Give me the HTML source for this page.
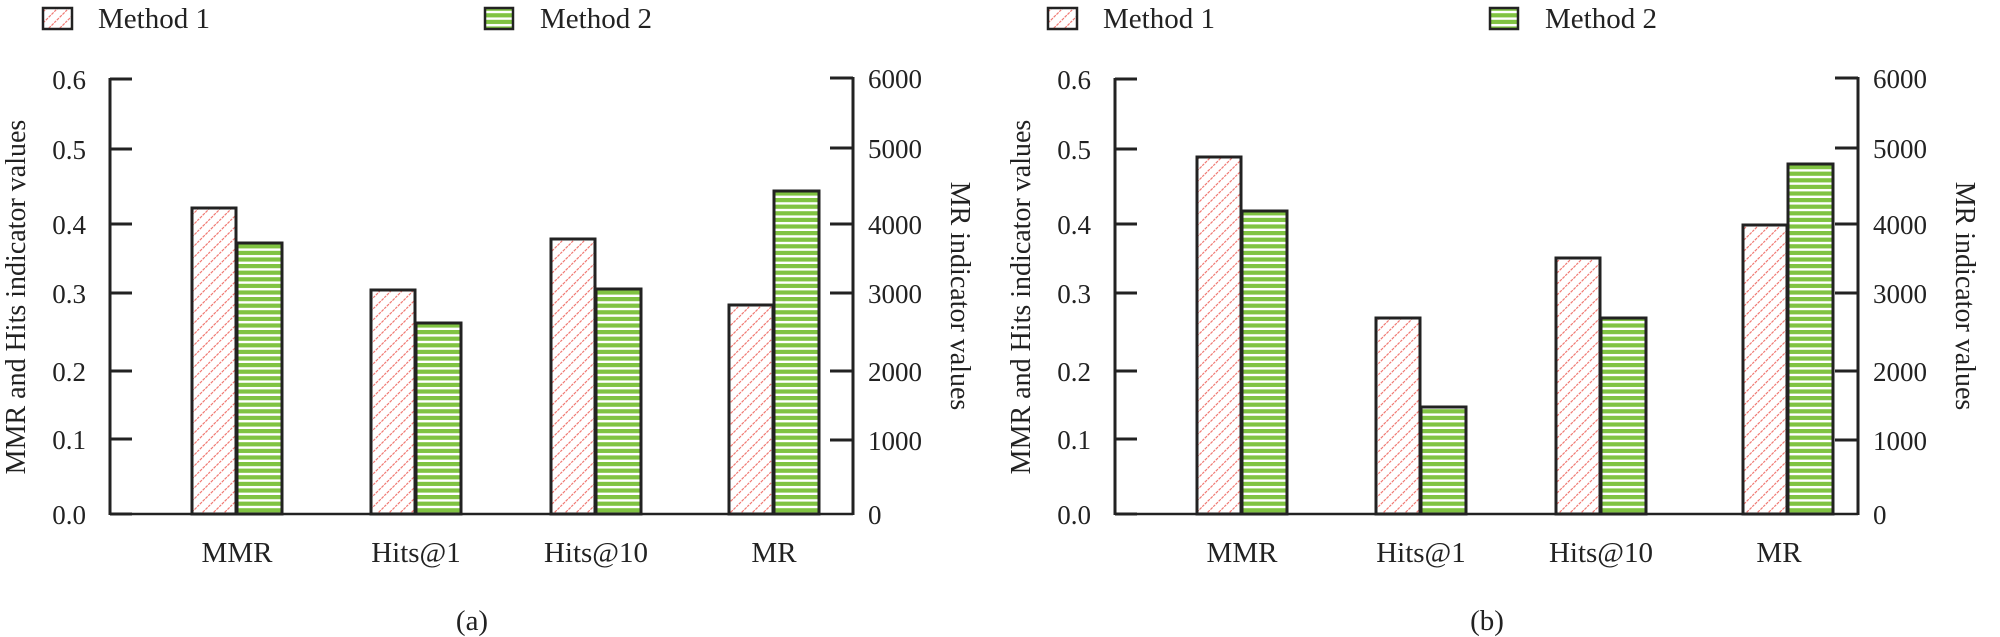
<!DOCTYPE html>
<html><head><meta charset="utf-8"><style>
html,body{margin:0;padding:0;background:#fff;}
svg{display:block;}
text{font-family:"Liberation Serif",serif;fill:#222;}
</style></head><body>
<svg width="2000" height="637" viewBox="0 0 2000 637" xmlns="http://www.w3.org/2000/svg">
<defs>
<pattern id="hatch" patternUnits="userSpaceOnUse" width="11" height="11">
<rect width="11" height="11" fill="#fff"/>
<path d="M-1,12 L12,-1 M-6,6 L6,-6 M5,17 L17,5" stroke="#f07a74" stroke-width="1.2" stroke-dasharray="3,1"/>
</pattern>
<pattern id="stripe" patternUnits="userSpaceOnUse" width="10" height="6.6">
<rect width="10" height="6.6" fill="#fff"/>
<rect y="0" width="10" height="4.2" fill="#80c342"/>
</pattern>
</defs>

<g id="pa">
<!-- legend -->
<rect x="43" y="8" width="29" height="21" fill="url(#hatch)" stroke="#222" stroke-width="2.5"/>
<text x="98" y="28" font-size="29">Method 1</text>
<rect x="485" y="8" width="28" height="21" fill="url(#stripe)" stroke="#222" stroke-width="2.5"/>
<text x="540" y="28" font-size="29">Method 2</text>
<!-- left axis -->
<line x1="110" y1="78" x2="110" y2="515" stroke="#222" stroke-width="3"/>
<g stroke="#222" stroke-width="3">
<line x1="110" y1="79" x2="132" y2="79"/><line x1="110" y1="149" x2="132" y2="149"/>
<line x1="110" y1="224" x2="132" y2="224"/><line x1="110" y1="293" x2="132" y2="293"/>
<line x1="110" y1="371" x2="132" y2="371"/><line x1="110" y1="439" x2="132" y2="439"/>
<line x1="110" y1="514" x2="132" y2="514"/>
</g>
<g font-size="27" text-anchor="end">
<text x="86" y="89">0.6</text><text x="86" y="159">0.5</text><text x="86" y="234">0.4</text>
<text x="86" y="303">0.3</text><text x="86" y="381">0.2</text><text x="86" y="449">0.1</text><text x="86" y="524">0.0</text>
</g>
<text transform="translate(25,297) rotate(-90)" font-size="28" text-anchor="middle">MMR and Hits indicator values</text>
<!-- baseline -->
<line x1="110" y1="514" x2="853" y2="514" stroke="#222" stroke-width="2.5"/>
<!-- right axis -->
<line x1="853" y1="77" x2="853" y2="515" stroke="#222" stroke-width="3"/>
<g stroke="#222" stroke-width="3">
<line x1="830" y1="78" x2="853" y2="78"/><line x1="830" y1="148" x2="853" y2="148"/>
<line x1="830" y1="224" x2="853" y2="224"/><line x1="830" y1="293" x2="853" y2="293"/>
<line x1="830" y1="371" x2="853" y2="371"/><line x1="830" y1="440" x2="853" y2="440"/>
</g>
<g font-size="27">
<text x="868" y="88">6000</text><text x="868" y="158">5000</text><text x="868" y="234">4000</text>
<text x="868" y="303">3000</text><text x="868" y="381">2000</text><text x="868" y="450">1000</text><text x="868" y="524">0</text>
</g>
<text transform="translate(951,296) rotate(90)" font-size="28" text-anchor="middle">MR indicator values</text>
<!-- x labels -->
<g font-size="29" text-anchor="middle">
<text x="237" y="562">MMR</text><text x="416" y="562">Hits@1</text><text x="596" y="562">Hits@10</text><text x="774" y="562">MR</text>
<text x="472" y="630">(a)</text>
</g>
<!-- bars a -->
<g stroke="#222" stroke-width="3">
<rect x="192" y="208" width="44" height="306" fill="url(#hatch)"/>
<rect x="237" y="243" width="45" height="271" fill="url(#stripe)"/>
<rect x="371" y="290" width="44" height="224" fill="url(#hatch)"/>
<rect x="416" y="323" width="45" height="191" fill="url(#stripe)"/>
<rect x="551" y="239" width="44" height="275" fill="url(#hatch)"/>
<rect x="596" y="289" width="45" height="225" fill="url(#stripe)"/>
<rect x="729" y="305" width="44" height="209" fill="url(#hatch)"/>
<rect x="774" y="191" width="45" height="323" fill="url(#stripe)"/>
</g>
</g>

<g transform="translate(1005,0)">
<rect x="43" y="8" width="29" height="21" fill="url(#hatch)" stroke="#222" stroke-width="2.5"/>
<text x="98" y="28" font-size="29">Method 1</text>
<rect x="485" y="8" width="28" height="21" fill="url(#stripe)" stroke="#222" stroke-width="2.5"/>
<text x="540" y="28" font-size="29">Method 2</text>
<line x1="110" y1="78" x2="110" y2="515" stroke="#222" stroke-width="3"/>
<g stroke="#222" stroke-width="3">
<line x1="110" y1="79" x2="132" y2="79"/><line x1="110" y1="149" x2="132" y2="149"/>
<line x1="110" y1="224" x2="132" y2="224"/><line x1="110" y1="293" x2="132" y2="293"/>
<line x1="110" y1="371" x2="132" y2="371"/><line x1="110" y1="439" x2="132" y2="439"/>
<line x1="110" y1="514" x2="132" y2="514"/>
</g>
<g font-size="27" text-anchor="end">
<text x="86" y="89">0.6</text><text x="86" y="159">0.5</text><text x="86" y="234">0.4</text>
<text x="86" y="303">0.3</text><text x="86" y="381">0.2</text><text x="86" y="449">0.1</text><text x="86" y="524">0.0</text>
</g>
<text transform="translate(25,297) rotate(-90)" font-size="28" text-anchor="middle">MMR and Hits indicator values</text>
<line x1="110" y1="514" x2="853" y2="514" stroke="#222" stroke-width="2.5"/>
<line x1="853" y1="77" x2="853" y2="515" stroke="#222" stroke-width="3"/>
<g stroke="#222" stroke-width="3">
<line x1="830" y1="78" x2="853" y2="78"/><line x1="830" y1="148" x2="853" y2="148"/>
<line x1="830" y1="224" x2="853" y2="224"/><line x1="830" y1="293" x2="853" y2="293"/>
<line x1="830" y1="371" x2="853" y2="371"/><line x1="830" y1="440" x2="853" y2="440"/>
</g>
<g font-size="27">
<text x="868" y="88">6000</text><text x="868" y="158">5000</text><text x="868" y="234">4000</text>
<text x="868" y="303">3000</text><text x="868" y="381">2000</text><text x="868" y="450">1000</text><text x="868" y="524">0</text>
</g>
<text transform="translate(951,296) rotate(90)" font-size="28" text-anchor="middle">MR indicator values</text>
<g font-size="29" text-anchor="middle">
<text x="237" y="562">MMR</text><text x="416" y="562">Hits@1</text><text x="596" y="562">Hits@10</text><text x="774" y="562">MR</text>
<text x="482" y="630">(b)</text>
</g>
<g stroke="#222" stroke-width="3">
<rect x="192" y="157" width="44" height="357" fill="url(#hatch)"/>
<rect x="237" y="211" width="45" height="303" fill="url(#stripe)"/>
<rect x="371" y="318" width="44" height="196" fill="url(#hatch)"/>
<rect x="416" y="407" width="45" height="107" fill="url(#stripe)"/>
<rect x="551" y="258" width="44" height="256" fill="url(#hatch)"/>
<rect x="596" y="318" width="45" height="196" fill="url(#stripe)"/>
<rect x="738" y="225" width="44" height="289" fill="url(#hatch)"/>
<rect x="783" y="164" width="45" height="350" fill="url(#stripe)"/>
</g>
</g>
</svg>
</body></html>
